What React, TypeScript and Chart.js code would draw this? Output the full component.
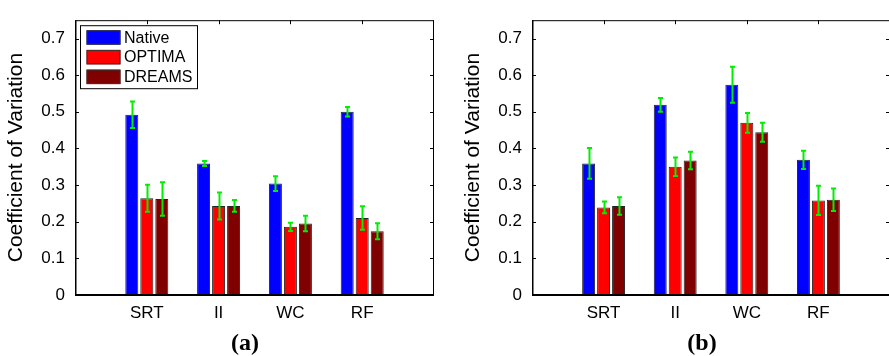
import React, { useEffect, useRef } from 'react';
import { Chart, registerables } from 'chart.js';
Chart.register(...registerables);

const categories = ['SRT', 'II', 'WC', 'RF'];
const seriesNames = ['Native', 'OPTIMA', 'DREAMS'];
const seriesColors = ['#0000ff', '#ff0000', '#800000'];
const yTicks = [0, 0.1, 0.2, 0.3, 0.4, 0.5, 0.6, 0.7];
const yTickLabels = ['0', '0.1', '0.2', '0.3', '0.4', '0.5', '0.6', '0.7'];
const yTitle = 'Coefficient of Variation';

// panel (a)
const aNative = [0.492, 0.359, 0.304, 0.5];
const aNativeErr = [0.036, 0.007, 0.02, 0.013];
const aOptima = [0.264, 0.243, 0.186, 0.21];
const aOptimaErr = [0.037, 0.037, 0.011, 0.032];
const aDreams = [0.262, 0.243, 0.195, 0.174];
const aDreamsErr = [0.046, 0.016, 0.021, 0.022];

// panel (b)
const bNative = [0.359, 0.519, 0.574, 0.369];
const bNativeErr = [0.042, 0.019, 0.049, 0.025];
const bOptima = [0.239, 0.35, 0.47, 0.258];
const bOptimaErr = [0.016, 0.025, 0.027, 0.04];
const bDreams = [0.243, 0.367, 0.444, 0.26];
const bDreamsErr = [0.024, 0.024, 0.026, 0.031];

const SANS = '"Liberation Sans", Arial, sans-serif';

const pad = (arr: number[]) => [null, ...arr, null];

const decorPlugin = {
  id: 'decor',
  afterDatasetsDraw(chart: any) {
    const ctx = chart.ctx;
    const ys = chart.scales.y;
    ctx.save();
    ctx.strokeStyle = '#00ee00';
    ctx.lineWidth = 2;
    chart.data.datasets.forEach((ds: any, i: number) => {
      const meta = chart.getDatasetMeta(i);
      meta.data.forEach((el: any, j: number) => {
        const v = ds.data[j];
        const e = ds.errors[j];
        if (v == null || e == null) return;
        const x = Math.round(el.x) + 0.5;
        const t = ys.getPixelForValue(v + e);
        const b = ys.getPixelForValue(v - e);
        ctx.beginPath();
        ctx.moveTo(x, t);
        ctx.lineTo(x, b);
        ctx.moveTo(x - 2.5, t);
        ctx.lineTo(x + 2.5, t);
        ctx.moveTo(x - 2.5, b);
        ctx.lineTo(x + 2.5, b);
        ctx.stroke();
      });
    });
    ctx.restore();
  },
  afterDraw(chart: any) {
    const ctx = chart.ctx;
    const { left, right, top, bottom } = chart.chartArea;
    const xs = chart.scales.x;
    const ys = chart.scales.y;
    ctx.save();
    ctx.strokeStyle = '#000';
    // frame
    ctx.lineWidth = 1;
    ctx.beginPath();
    ctx.moveTo(left, top + 0.5);
    ctx.lineTo(right, top + 0.5);
    ctx.moveTo(right - 0.5, top);
    ctx.lineTo(right - 0.5, bottom);
    ctx.stroke();
    ctx.lineWidth = 1.5;
    ctx.beginPath();
    ctx.moveTo(left + 0.75, top);
    ctx.lineTo(left + 0.75, bottom);
    ctx.stroke();
    ctx.lineWidth = 2;
    ctx.beginPath();
    ctx.moveTo(left, bottom);
    ctx.lineTo(right, bottom);
    ctx.stroke();
    // ticks
    ctx.lineWidth = 1;
    ctx.beginPath();
    yTicks.forEach((v) => {
      const py = Math.round(ys.getPixelForValue(v)) + 0.5;
      ctx.moveTo(left, py);
      ctx.lineTo(left + 4, py);
      ctx.moveTo(right, py);
      ctx.lineTo(right - 4, py);
    });
    categories.forEach((_, i) => {
      const px = Math.round(xs.getPixelForValue(i + 1)) + 0.5;
      ctx.moveTo(px, top);
      ctx.lineTo(px, top + 4);
    });
    ctx.stroke();
    // legend
    if (chart.options.plugins.decor && chart.options.plugins.decor.legend) {
      const lx = left + 5;
      const ly = top + 5;
      ctx.font = '16px ' + SANS;
      const boxW = 117;
      const boxH = 63;
      ctx.fillStyle = '#fff';
      ctx.fillRect(lx, ly, boxW, boxH);
      ctx.lineWidth = 1;
      ctx.strokeRect(lx + 0.5, ly + 0.5, boxW, boxH);
      seriesNames.forEach((n, i) => {
        const ry = ly + 5 + i * 19.7;
        ctx.fillStyle = seriesColors[i];
        ctx.fillRect(lx + 6.5, ry, 34, 14.5);
        ctx.strokeStyle = '#333';
        ctx.strokeRect(lx + 7, ry + 0.5, 33, 13.5);
        ctx.fillStyle = '#000';
        ctx.textBaseline = 'middle';
        ctx.textAlign = 'left';
        ctx.fillText(n, lx + 44, ry + 8);
      });
    }
    ctx.restore();
  },
};

function makeConfig(
  vals: number[][],
  errs: number[][],
  legend: boolean,
  yWidth: number,
  padRight: number,
  titlePad: number
): any {
  return {
    type: 'bar',
    data: {
      labels: ['', ...categories, ''],
      datasets: seriesNames.map((name, i) => ({
        label: name,
        data: pad(vals[i]),
        errors: pad(errs[i]),
        backgroundColor: seriesColors[i],
        borderColor: '#222',
        borderWidth: 1,
        categoryPercentage: 0.627,
        barPercentage: 0.867,
      })),
    },
    options: {
      responsive: false,
      animation: false,
      layout: { padding: { left: 0, top: 12, right: padRight, bottom: 0 } },
      plugins: {
        legend: { display: false },
        tooltip: { enabled: false },
        decor: { legend },
      },
      scales: {
        x: {
          type: 'category',
          offset: false,
          grid: { display: false, drawTicks: false },
          border: { display: false },
          ticks: {
            autoSkip: false,
            maxRotation: 0,
            color: '#000',
            padding: 8,
            font: { family: SANS, size: 17 },
          },
          afterFit: (s: any) => {
            s.height = 61;
          },
        },
        y: {
          min: 0,
          max: 0.75,
          grid: { display: false, drawTicks: false },
          border: { display: false },
          afterBuildTicks: (s: any) => {
            s.ticks = yTicks.map((v) => ({ value: v }));
          },
          ticks: {
            color: '#000',
            padding: 10,
            font: { family: SANS, size: 17 },
            callback: (v: any) => {
              const idx = yTicks.findIndex((t) => Math.abs(t - Number(v)) < 1e-9);
              return idx >= 0 ? yTickLabels[idx] : '';
            },
          },
          title: {
            display: true,
            text: yTitle,
            color: '#000',
            font: { family: SANS, size: 21 },
            padding: { top: titlePad, bottom: 0 },
          },
          afterFit: (s: any) => {
            s.width = yWidth;
          },
        },
      },
    },
    plugins: [decorPlugin],
  };
}

function Panel(props: { cfg: any; width: number; left: number }) {
  const ref = useRef<HTMLCanvasElement | null>(null);
  useEffect(() => {
    if (!ref.current) return;
    const c = new Chart(ref.current, props.cfg);
    return () => c.destroy();
  }, []);
  return (
    <canvas
      ref={ref}
      width={props.width}
      height={356}
      style={{ position: 'absolute', left: props.left, top: 0, width: props.width, height: 356 }}
    />
  );
}

const captionStyle = (cx: number): React.CSSProperties => ({
  position: 'absolute',
  left: cx - 40,
  width: 80,
  top: 329,
  textAlign: 'center',
  font: 'bold 24px "Liberation Serif", "Times New Roman", serif',
  lineHeight: '26px',
  color: '#000',
});

export default function App() {
  const cfgA = makeConfig(
    [aNative, aOptima, aDreams],
    [aNativeErr, aOptimaErr, aDreamsErr],
    true,
    75,
    11,
    4
  );
  const cfgB = makeConfig(
    [bNative, bOptima, bDreams],
    [bNativeErr, bOptimaErr, bDreamsErr],
    false,
    87,
    15,
    16
  );
  return (
    <div
      style={{
        position: 'fixed',
        left: 0,
        top: 0,
        width: 889,
        height: 356,
        overflow: 'hidden',
        background: '#fff',
      }}
    >
      <Panel cfg={cfgA} width={445} left={0} />
      <Panel cfg={cfgB} width={460} left={445} />
      <div style={captionStyle(245)}>(a)</div>
      <div style={captionStyle(702)}>(b)</div>
    </div>
  );
}
